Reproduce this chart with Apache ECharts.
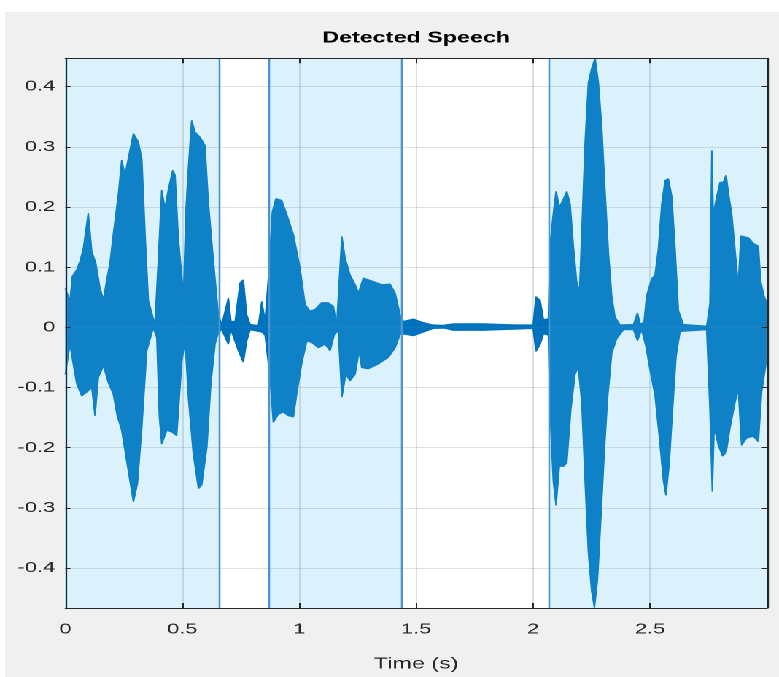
<!DOCTYPE html>
<html><head><meta charset="utf-8">
<script src="https://cdn.jsdelivr.net/npm/echarts@6/dist/echarts.min.js"></script>
<style>
html,body{margin:0;padding:0;background:#fff;width:779px;height:677px;overflow:hidden}
#bg{position:absolute;left:5px;top:12px;width:774px;height:665px;background:#f0f0f0}
#chart{position:absolute;left:0;top:0;width:534px;height:677px;transform-origin:0 0;transform:scaleX(1.4588)}
</style></head><body><div id="bg"></div><div id="chart"></div>
<script>
// ---- data ----
const xTickValues = [0, 0.5, 1, 1.5, 2, 2.5];
const yTickValues = [-0.4, -0.3, -0.2, -0.1, 0, 0.1, 0.2, 0.3, 0.4];
const speechStart = [0, 0.868, 2.072];
const speechEnd   = [0.658, 1.441, 3.0];

// upper envelope of the waveform (time s, amplitude)
const upperT = [0.000,0.020,0.030,0.049,0.063,0.077,0.098,0.113,0.130,0.148,0.163,0.177,0.191,0.205,0.227,0.241,0.255,0.269,0.291,0.312,0.327,0.341,0.355,0.383,0.398,0.412,0.426,0.440,0.459,0.469,0.483,0.505,0.516,0.526,0.540,0.555,0.576,0.597,0.611,0.633,0.654,0.669,0.697,0.708,0.726,0.747,0.761,0.775,0.790,0.825,0.840,0.854,0.868,0.885,0.900,0.925,0.947,0.975,1.003,1.025,1.046,1.068,1.096,1.124,1.146,1.160,1.171,1.182,1.196,1.217,1.239,1.253,1.274,1.310,1.353,1.388,1.410,1.431,1.445,1.488,1.530,1.573,1.616,1.659,1.787,1.930,2.000,2.012,2.030,2.044,2.065,2.072,2.086,2.098,2.112,2.127,2.144,2.158,2.172,2.186,2.198,2.208,2.222,2.236,2.250,2.265,2.279,2.293,2.307,2.322,2.336,2.350,2.372,2.429,2.446,2.457,2.474,2.485,2.507,2.521,2.535,2.550,2.564,2.578,2.593,2.607,2.621,2.642,2.742,2.756,2.764,2.770,2.785,2.799,2.813,2.825,2.835,2.849,2.863,2.877,2.888,2.898,2.920,2.941,2.963,2.973,2.987,3.000];
const upperV = [0.065,0.044,0.085,0.096,0.110,0.131,0.190,0.126,0.107,0.065,0.046,0.079,0.107,0.154,0.222,0.278,0.253,0.280,0.322,0.308,0.280,0.154,0.044,0.005,0.115,0.228,0.198,0.228,0.261,0.253,0.148,0.054,0.198,0.264,0.344,0.324,0.316,0.302,0.209,0.110,0.021,0.005,0.049,0.010,0.010,0.074,0.079,0.021,0.005,0.003,0.043,0.010,0.082,0.192,0.214,0.211,0.187,0.154,0.099,0.038,0.027,0.030,0.041,0.041,0.035,0.003,0.005,0.151,0.115,0.087,0.071,0.057,0.082,0.077,0.071,0.072,0.057,0.021,0.010,0.014,0.008,0.004,0.0035,0.006,0.006,0.004,0.004,0.051,0.045,0.013,0.014,0.135,0.188,0.226,0.200,0.211,0.226,0.205,0.135,0.076,0.058,0.158,0.306,0.406,0.430,0.447,0.406,0.335,0.229,0.123,0.052,0.017,0.004,0.005,0.024,0.006,0.008,0.052,0.081,0.087,0.129,0.205,0.244,0.247,0.217,0.129,0.028,0.005,0.002,0.040,0.294,0.188,0.217,0.241,0.241,0.253,0.223,0.188,0.129,0.070,0.152,0.153,0.149,0.140,0.135,0.076,0.052,0.040];

// lower envelope of the waveform (time s, amplitude)
const lowerT = [0.000,0.020,0.034,0.049,0.070,0.091,0.113,0.127,0.141,0.163,0.184,0.205,0.222,0.241,0.262,0.291,0.308,0.327,0.348,0.376,0.391,0.402,0.412,0.434,0.455,0.476,0.498,0.512,0.526,0.547,0.569,0.583,0.605,0.622,0.640,0.654,0.669,0.697,0.708,0.740,0.761,0.775,0.790,0.840,0.854,0.875,0.889,0.911,0.932,0.953,0.975,0.989,1.010,1.032,1.053,1.082,1.110,1.132,1.150,1.167,1.182,1.199,1.217,1.239,1.256,1.267,1.295,1.338,1.381,1.410,1.431,1.445,1.488,1.530,1.573,1.616,1.659,1.787,1.930,2.000,2.012,2.030,2.044,2.065,2.072,2.086,2.098,2.112,2.130,2.144,2.161,2.179,2.193,2.208,2.222,2.236,2.250,2.262,2.275,2.290,2.304,2.318,2.336,2.357,2.386,2.429,2.446,2.464,2.482,2.499,2.521,2.540,2.557,2.568,2.582,2.596,2.611,2.628,2.742,2.756,2.766,2.774,2.792,2.810,2.825,2.842,2.863,2.877,2.891,2.913,2.941,2.963,2.977,2.998];
const lowerV = [-0.078,-0.028,-0.061,-0.094,-0.114,-0.108,-0.100,-0.147,-0.083,-0.064,-0.092,-0.111,-0.147,-0.171,-0.221,-0.290,-0.260,-0.166,-0.039,-0.001,-0.017,-0.149,-0.194,-0.171,-0.174,-0.180,-0.056,-0.023,-0.116,-0.210,-0.268,-0.262,-0.199,-0.094,-0.028,-0.009,-0.004,-0.028,-0.004,-0.039,-0.058,-0.023,-0.004,-0.008,-0.013,-0.083,-0.158,-0.144,-0.141,-0.147,-0.149,-0.111,-0.061,-0.023,-0.025,-0.034,-0.028,-0.039,-0.012,-0.006,-0.116,-0.078,-0.089,-0.078,-0.039,-0.067,-0.069,-0.061,-0.050,-0.034,-0.012,-0.011,-0.014,-0.008,-0.002,-0.001,-0.005,-0.005,-0.003,-0.002,-0.040,-0.028,-0.011,-0.013,-0.137,-0.255,-0.296,-0.231,-0.231,-0.225,-0.137,-0.078,-0.066,-0.125,-0.255,-0.373,-0.438,-0.466,-0.420,-0.314,-0.208,-0.119,-0.043,-0.019,-0.004,-0.004,-0.022,-0.004,-0.031,-0.069,-0.113,-0.184,-0.255,-0.279,-0.225,-0.137,-0.048,-0.007,-0.004,-0.137,-0.273,-0.166,-0.196,-0.214,-0.208,-0.166,-0.125,-0.102,-0.196,-0.184,-0.181,-0.190,-0.107,-0.054];

// ---- chart ----
const FONT = "'Liberation Sans', Arial, Helvetica, sans-serif";
const AX = '#262626';
const GRIDC = 'rgba(38,38,38,0.15)';
const chart = echarts.init(document.getElementById('chart'), null, {renderer: 'canvas', devicePixelRatio: 2});

const wave = '#0072BD';
const edges = speechStart.concat(speechEnd);

const option = {
  backgroundColor: 'transparent',
  animation: false,
  title: {
    text: 'Detected Speech', left: 285.3, top: 30, textAlign: 'center', padding: 0, zlevel: 3,
    textStyle: {fontFamily: FONT, fontSize: 16, fontWeight: 'bold', color: '#000'}
  },
  grid: {left: 44.8, right: 8.2, top: 58.3, bottom: 65.3, show: true, backgroundColor: '#fff', borderWidth: 0, containLabel: false, zlevel: 0},
  xAxis: [{
    type: 'value', min: 0, max: 3, interval: 0.5, position: 'bottom', zlevel: 3,
    name: 'Time (s)', nameLocation: 'middle', nameGap: 48,
    nameTextStyle: {fontFamily: FONT, fontSize: 16, color: AX},
    axisLine: {show: true, onZero: false, lineStyle: {color: AX, width: 1}},
    axisTick: {show: true, inside: true, length: 5, lineStyle: {color: AX}},
    axisLabel: {fontFamily: FONT, fontSize: 15, color: AX, margin: 14,
      formatter: v => (xTickValues.indexOf(v) >= 0 ? String(v) : '')},
    splitLine: {show: false}
  }, {
    type: 'value', min: 0, max: 3, interval: 0.5, position: 'top', zlevel: 3,
    axisLine: {show: true, onZero: false, lineStyle: {color: AX, width: 1}},
    axisTick: {show: true, inside: true, length: 5, lineStyle: {color: AX}},
    axisLabel: {show: false}, splitLine: {show: false}
  }],
  yAxis: [{
    type: 'value', min: -0.4663, max: 0.447, splitNumber: 9, position: 'left', zlevel: 3,
    axisLine: {show: true, onZero: false, lineStyle: {color: AX, width: 1}},
    axisTick: {show: true, inside: true, length: 3.5, customValues: yTickValues, lineStyle: {color: AX}},
    axisLabel: {fontFamily: FONT, fontSize: 15, color: AX, margin: 7, customValues: yTickValues,
      formatter: v => String(v)},
    splitLine: {show: false}
  }, {
    type: 'value', min: -0.4663, max: 0.447, splitNumber: 9, position: 'right', zlevel: 3,
    axisLine: {show: true, onZero: false, lineStyle: {color: AX, width: 1}},
    axisTick: {show: true, inside: true, length: 3.5, customValues: yTickValues, lineStyle: {color: AX}},
    axisLabel: {show: false}, splitLine: {show: false}
  }],
  series: [{
    // grid lines, drawn beneath the waveform
    type: 'line', name: 'grid', xAxisIndex: 0, yAxisIndex: 0, silent: true, zlevel: 0, z: 1,
    symbol: 'none', data: [], lineStyle: {opacity: 0},
    markLine: {silent: true, zlevel: 0, z: 1, symbol: ['none', 'none'], label: {show: false},
      lineStyle: {color: GRIDC, width: 1, type: 'solid'},
      data: xTickValues.filter(v => v > 0).map(x => ({xAxis: x}))
        .concat(yTickValues.map(y => ({yAxis: y})))}
  }, {
    type: 'line', name: 'upper', xAxisIndex: 0, yAxisIndex: 0, silent: true, zlevel: 1, z: 3,
    symbol: 'none', showSymbol: false,
    data: upperT.map((t, i) => [t, upperV[i]]),
    lineStyle: {color: wave, width: 1}, areaStyle: {color: wave, opacity: 1},
    markLine: {silent: true, zlevel: 1, z: 3, symbol: ['none', 'none'], label: {show: false},
      lineStyle: {color: wave, width: 1.5, type: 'solid'}, data: [{yAxis: 0}]}
  }, {
    type: 'line', name: 'lower', xAxisIndex: 0, yAxisIndex: 0, silent: true, zlevel: 1, z: 3,
    symbol: 'none', showSymbol: false,
    data: lowerT.map((t, i) => [t, lowerV[i]]),
    lineStyle: {color: wave, width: 1}, areaStyle: {color: wave, opacity: 1}
  }, {
    type: 'line', name: 'speech', xAxisIndex: 0, yAxisIndex: 0, silent: true, zlevel: 2, z: 4,
    symbol: 'none', data: [], lineStyle: {opacity: 0},
    markArea: {silent: true, zlevel: 2, z: 4, itemStyle: {color: 'rgba(77,190,238,0.2)', borderWidth: 0},
      data: speechStart.map((s, i) => [{xAxis: s}, {xAxis: speechEnd[i]}])},
    markLine: {silent: true, zlevel: 2, z: 5, symbol: ['none', 'none'], label: {show: false},
      lineStyle: {color: '#4a94cf', width: 1.3, type: 'solid'},
      data: edges.map(x => ({xAxis: x}))}
  }]
};
chart.setOption(option);
</script></body></html>
